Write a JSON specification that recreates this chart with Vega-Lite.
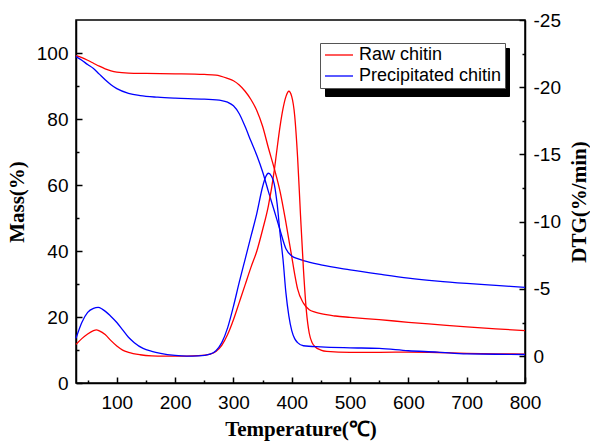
{
  "$schema": "https://vega.github.io/schema/vega-lite/v6.json",
  "autosize": {"type": "none"},
  "padding": {"left": 76, "top": 20, "right": 65, "bottom": 60},
  "width": 449,
  "height": 363,
  "background": "white",
  "config": {
    "view": {"stroke": "black", "strokeWidth": 1.5},
    "axis": {
      "grid": false,
      "domainColor": "black",
      "domainWidth": 1.5,
      "tickColor": "black",
      "tickWidth": 1.5,
      "labelFont": "Liberation Sans",
      "labelFontSize": 19,
      "labelColor": "black",
      "labelFlush": false,
      "titleFont": "Liberation Serif",
      "titleFontSize": 21,
      "titleFontWeight": "bold",
      "titleColor": "black"
    },
    "legend": {
      "labelFont": "Liberation Sans",
      "labelFontSize": 18,
      "labelColor": "black",
      "padding": 3,
      "rowPadding": 3,
      "symbolStrokeWidth": 1.3
    }
  },
  "datasets": {
    "mass": [
      {"T": 30, "Mass": 99.2, "Series": "Raw chitin"},
      {"T": 40, "Mass": 98.6, "Series": "Raw chitin"},
      {"T": 50, "Mass": 97.8, "Series": "Raw chitin"},
      {"T": 60, "Mass": 96.9, "Series": "Raw chitin"},
      {"T": 70, "Mass": 96.0, "Series": "Raw chitin"},
      {"T": 80, "Mass": 95.2, "Series": "Raw chitin"},
      {"T": 90, "Mass": 94.6, "Series": "Raw chitin"},
      {"T": 100, "Mass": 94.2, "Series": "Raw chitin"},
      {"T": 120, "Mass": 93.9, "Series": "Raw chitin"},
      {"T": 150, "Mass": 93.8, "Series": "Raw chitin"},
      {"T": 200, "Mass": 93.7, "Series": "Raw chitin"},
      {"T": 250, "Mass": 93.5, "Series": "Raw chitin"},
      {"T": 270, "Mass": 93.3, "Series": "Raw chitin"},
      {"T": 290, "Mass": 92.3, "Series": "Raw chitin"},
      {"T": 300, "Mass": 91.6, "Series": "Raw chitin"},
      {"T": 310, "Mass": 90.3, "Series": "Raw chitin"},
      {"T": 320, "Mass": 88.4, "Series": "Raw chitin"},
      {"T": 330, "Mass": 85.9, "Series": "Raw chitin"},
      {"T": 340, "Mass": 82.6, "Series": "Raw chitin"},
      {"T": 350, "Mass": 77.8, "Series": "Raw chitin"},
      {"T": 360, "Mass": 71.2, "Series": "Raw chitin"},
      {"T": 370, "Mass": 65.0, "Series": "Raw chitin"},
      {"T": 380, "Mass": 58.0, "Series": "Raw chitin"},
      {"T": 390, "Mass": 48.6, "Series": "Raw chitin"},
      {"T": 400, "Mass": 38.3, "Series": "Raw chitin"},
      {"T": 405, "Mass": 33.0, "Series": "Raw chitin"},
      {"T": 410, "Mass": 28.5, "Series": "Raw chitin"},
      {"T": 420, "Mass": 24.2, "Series": "Raw chitin"},
      {"T": 430, "Mass": 22.2, "Series": "Raw chitin"},
      {"T": 440, "Mass": 21.5, "Series": "Raw chitin"},
      {"T": 450, "Mass": 21.0, "Series": "Raw chitin"},
      {"T": 475, "Mass": 20.3, "Series": "Raw chitin"},
      {"T": 500, "Mass": 19.9, "Series": "Raw chitin"},
      {"T": 550, "Mass": 19.2, "Series": "Raw chitin"},
      {"T": 600, "Mass": 18.4, "Series": "Raw chitin"},
      {"T": 650, "Mass": 17.7, "Series": "Raw chitin"},
      {"T": 700, "Mass": 17.0, "Series": "Raw chitin"},
      {"T": 750, "Mass": 16.4, "Series": "Raw chitin"},
      {"T": 800, "Mass": 15.9, "Series": "Raw chitin"},
      {"T": 30, "Mass": 98.9, "Series": "Precipitated chitin"},
      {"T": 40, "Mass": 97.8, "Series": "Precipitated chitin"},
      {"T": 50, "Mass": 96.5, "Series": "Precipitated chitin"},
      {"T": 60, "Mass": 95.3, "Series": "Precipitated chitin"},
      {"T": 70, "Mass": 93.6, "Series": "Precipitated chitin"},
      {"T": 80, "Mass": 91.9, "Series": "Precipitated chitin"},
      {"T": 90, "Mass": 90.4, "Series": "Precipitated chitin"},
      {"T": 100, "Mass": 89.2, "Series": "Precipitated chitin"},
      {"T": 120, "Mass": 87.8, "Series": "Precipitated chitin"},
      {"T": 140, "Mass": 87.1, "Series": "Precipitated chitin"},
      {"T": 170, "Mass": 86.6, "Series": "Precipitated chitin"},
      {"T": 200, "Mass": 86.3, "Series": "Precipitated chitin"},
      {"T": 250, "Mass": 86.0, "Series": "Precipitated chitin"},
      {"T": 280, "Mass": 85.6, "Series": "Precipitated chitin"},
      {"T": 290, "Mass": 85.1, "Series": "Precipitated chitin"},
      {"T": 300, "Mass": 84.0, "Series": "Precipitated chitin"},
      {"T": 310, "Mass": 81.6, "Series": "Precipitated chitin"},
      {"T": 320, "Mass": 77.7, "Series": "Precipitated chitin"},
      {"T": 330, "Mass": 73.3, "Series": "Precipitated chitin"},
      {"T": 340, "Mass": 69.0, "Series": "Precipitated chitin"},
      {"T": 350, "Mass": 64.0, "Series": "Precipitated chitin"},
      {"T": 360, "Mass": 58.0, "Series": "Precipitated chitin"},
      {"T": 370, "Mass": 52.2, "Series": "Precipitated chitin"},
      {"T": 380, "Mass": 46.3, "Series": "Precipitated chitin"},
      {"T": 390, "Mass": 40.7, "Series": "Precipitated chitin"},
      {"T": 400, "Mass": 38.5, "Series": "Precipitated chitin"},
      {"T": 410, "Mass": 37.7, "Series": "Precipitated chitin"},
      {"T": 420, "Mass": 37.1, "Series": "Precipitated chitin"},
      {"T": 450, "Mass": 35.8, "Series": "Precipitated chitin"},
      {"T": 500, "Mass": 34.3, "Series": "Precipitated chitin"},
      {"T": 550, "Mass": 33.0, "Series": "Precipitated chitin"},
      {"T": 600, "Mass": 31.8, "Series": "Precipitated chitin"},
      {"T": 650, "Mass": 30.9, "Series": "Precipitated chitin"},
      {"T": 700, "Mass": 30.2, "Series": "Precipitated chitin"},
      {"T": 750, "Mass": 29.6, "Series": "Precipitated chitin"},
      {"T": 800, "Mass": 29.0, "Series": "Precipitated chitin"}
    ],
    "dtg": [
      {"T": 30, "DTG": -0.87, "Series": "Raw chitin"},
      {"T": 40, "DTG": -1.3, "Series": "Raw chitin"},
      {"T": 50, "DTG": -1.65, "Series": "Raw chitin"},
      {"T": 60, "DTG": -1.9, "Series": "Raw chitin"},
      {"T": 65, "DTG": -1.95, "Series": "Raw chitin"},
      {"T": 70, "DTG": -1.88, "Series": "Raw chitin"},
      {"T": 80, "DTG": -1.6, "Series": "Raw chitin"},
      {"T": 90, "DTG": -1.15, "Series": "Raw chitin"},
      {"T": 100, "DTG": -0.75, "Series": "Raw chitin"},
      {"T": 110, "DTG": -0.45, "Series": "Raw chitin"},
      {"T": 120, "DTG": -0.28, "Series": "Raw chitin"},
      {"T": 140, "DTG": -0.1, "Series": "Raw chitin"},
      {"T": 160, "DTG": -0.02, "Series": "Raw chitin"},
      {"T": 180, "DTG": 0, "Series": "Raw chitin"},
      {"T": 220, "DTG": 0, "Series": "Raw chitin"},
      {"T": 240, "DTG": -0.03, "Series": "Raw chitin"},
      {"T": 260, "DTG": -0.15, "Series": "Raw chitin"},
      {"T": 270, "DTG": -0.35, "Series": "Raw chitin"},
      {"T": 280, "DTG": -0.8, "Series": "Raw chitin"},
      {"T": 290, "DTG": -1.6, "Series": "Raw chitin"},
      {"T": 300, "DTG": -2.7, "Series": "Raw chitin"},
      {"T": 310, "DTG": -4.0, "Series": "Raw chitin"},
      {"T": 320, "DTG": -5.3, "Series": "Raw chitin"},
      {"T": 330, "DTG": -6.6, "Series": "Raw chitin"},
      {"T": 340, "DTG": -7.8, "Series": "Raw chitin"},
      {"T": 350, "DTG": -9.4, "Series": "Raw chitin"},
      {"T": 360, "DTG": -11.2, "Series": "Raw chitin"},
      {"T": 370, "DTG": -13.8, "Series": "Raw chitin"},
      {"T": 375, "DTG": -15.5, "Series": "Raw chitin"},
      {"T": 380, "DTG": -17.1, "Series": "Raw chitin"},
      {"T": 385, "DTG": -18.4, "Series": "Raw chitin"},
      {"T": 390, "DTG": -19.3, "Series": "Raw chitin"},
      {"T": 395, "DTG": -19.7, "Series": "Raw chitin"},
      {"T": 400, "DTG": -19.3, "Series": "Raw chitin"},
      {"T": 405, "DTG": -17.9, "Series": "Raw chitin"},
      {"T": 410, "DTG": -14.8, "Series": "Raw chitin"},
      {"T": 415, "DTG": -10.5, "Series": "Raw chitin"},
      {"T": 420, "DTG": -6.5, "Series": "Raw chitin"},
      {"T": 425, "DTG": -3.4, "Series": "Raw chitin"},
      {"T": 430, "DTG": -1.7, "Series": "Raw chitin"},
      {"T": 435, "DTG": -1.0, "Series": "Raw chitin"},
      {"T": 440, "DTG": -0.7, "Series": "Raw chitin"},
      {"T": 450, "DTG": -0.45, "Series": "Raw chitin"},
      {"T": 460, "DTG": -0.35, "Series": "Raw chitin"},
      {"T": 500, "DTG": -0.28, "Series": "Raw chitin"},
      {"T": 550, "DTG": -0.28, "Series": "Raw chitin"},
      {"T": 600, "DTG": -0.3, "Series": "Raw chitin"},
      {"T": 650, "DTG": -0.27, "Series": "Raw chitin"},
      {"T": 700, "DTG": -0.2, "Series": "Raw chitin"},
      {"T": 750, "DTG": -0.17, "Series": "Raw chitin"},
      {"T": 800, "DTG": -0.15, "Series": "Raw chitin"},
      {"T": 30, "DTG": -1.32, "Series": "Precipitated chitin"},
      {"T": 40, "DTG": -2.5, "Series": "Precipitated chitin"},
      {"T": 50, "DTG": -3.25, "Series": "Precipitated chitin"},
      {"T": 60, "DTG": -3.55, "Series": "Precipitated chitin"},
      {"T": 68, "DTG": -3.62, "Series": "Precipitated chitin"},
      {"T": 75, "DTG": -3.5, "Series": "Precipitated chitin"},
      {"T": 90, "DTG": -2.95, "Series": "Precipitated chitin"},
      {"T": 100, "DTG": -2.5, "Series": "Precipitated chitin"},
      {"T": 110, "DTG": -1.95, "Series": "Precipitated chitin"},
      {"T": 120, "DTG": -1.4, "Series": "Precipitated chitin"},
      {"T": 130, "DTG": -1.0, "Series": "Precipitated chitin"},
      {"T": 145, "DTG": -0.57, "Series": "Precipitated chitin"},
      {"T": 160, "DTG": -0.35, "Series": "Precipitated chitin"},
      {"T": 175, "DTG": -0.2, "Series": "Precipitated chitin"},
      {"T": 200, "DTG": -0.05, "Series": "Precipitated chitin"},
      {"T": 220, "DTG": 0, "Series": "Precipitated chitin"},
      {"T": 240, "DTG": -0.02, "Series": "Precipitated chitin"},
      {"T": 260, "DTG": -0.15, "Series": "Precipitated chitin"},
      {"T": 270, "DTG": -0.4, "Series": "Precipitated chitin"},
      {"T": 280, "DTG": -1.0, "Series": "Precipitated chitin"},
      {"T": 290, "DTG": -2.1, "Series": "Precipitated chitin"},
      {"T": 300, "DTG": -3.7, "Series": "Precipitated chitin"},
      {"T": 310, "DTG": -5.5, "Series": "Precipitated chitin"},
      {"T": 320, "DTG": -7.2, "Series": "Precipitated chitin"},
      {"T": 330, "DTG": -8.9, "Series": "Precipitated chitin"},
      {"T": 340, "DTG": -10.6, "Series": "Precipitated chitin"},
      {"T": 350, "DTG": -12.6, "Series": "Precipitated chitin"},
      {"T": 355, "DTG": -13.3, "Series": "Precipitated chitin"},
      {"T": 360, "DTG": -13.6, "Series": "Precipitated chitin"},
      {"T": 365, "DTG": -13.4, "Series": "Precipitated chitin"},
      {"T": 370, "DTG": -12.8, "Series": "Precipitated chitin"},
      {"T": 375, "DTG": -11.3, "Series": "Precipitated chitin"},
      {"T": 380, "DTG": -9.1, "Series": "Precipitated chitin"},
      {"T": 385, "DTG": -7.2, "Series": "Precipitated chitin"},
      {"T": 390, "DTG": -4.7, "Series": "Precipitated chitin"},
      {"T": 395, "DTG": -3.0, "Series": "Precipitated chitin"},
      {"T": 400, "DTG": -1.9, "Series": "Precipitated chitin"},
      {"T": 405, "DTG": -1.3, "Series": "Precipitated chitin"},
      {"T": 410, "DTG": -1.0, "Series": "Precipitated chitin"},
      {"T": 420, "DTG": -0.77, "Series": "Precipitated chitin"},
      {"T": 450, "DTG": -0.69, "Series": "Precipitated chitin"},
      {"T": 500, "DTG": -0.62, "Series": "Precipitated chitin"},
      {"T": 550, "DTG": -0.57, "Series": "Precipitated chitin"},
      {"T": 600, "DTG": -0.4, "Series": "Precipitated chitin"},
      {"T": 650, "DTG": -0.3, "Series": "Precipitated chitin"},
      {"T": 700, "DTG": -0.16, "Series": "Precipitated chitin"},
      {"T": 750, "DTG": -0.14, "Series": "Precipitated chitin"},
      {"T": 800, "DTG": -0.12, "Series": "Precipitated chitin"}
    ]
  },
  "layer": [
    {
      "data": {"name": "mass"},
      "layer": [
        {
          "mark": {"type": "line", "interpolate": "monotone", "strokeWidth": 1.3},
          "encoding": {
            "x": {
              "field": "T", "type": "quantitative",
              "scale": {"domain": [30, 800], "nice": false, "zero": false},
              "axis": {"orient": "bottom", "title": "Temperature(℃)", "values": [100, 200, 300, 400, 500, 600, 700, 800], "tickSize": -6, "labelPadding": 16, "titlePadding": 6}
            },
            "y": {
              "field": "Mass", "type": "quantitative",
              "scale": {"domain": [0, 110], "nice": false},
              "axis": {"orient": "left", "title": "Mass(%)", "values": [0, 20, 40, 60, 80, 100], "tickSize": -6, "labelPadding": 14, "titlePadding": 9}
            },
            "color": {
              "field": "Series", "type": "nominal",
              "scale": {"domain": ["Raw chitin", "Precipitated chitin"], "range": ["#ff0000", "#0000ff"]},
              "legend": {"title": null, "orient": "none", "legendX": 244, "legendY": 23, "fillColor": "white", "strokeColor": "#555555", "symbolType": "M-1,0H3", "symbolSize": 196, "labelOffset": 18, "zindex": 2}
            },
            "opacity": {
              "field": "Series", "type": "ordinal",
              "scale": {"range": [1, 1]},
              "legend": {"title": null, "orient": "none", "legendX": 249, "legendY": 28, "fillColor": "black", "strokeColor": "black", "symbolType": "square", "symbolSize": 196, "symbolStrokeColor": "black", "symbolFillColor": "black", "labelExpr": "''", "labelOffset": 160, "zindex": 1}
            }
          }
        },
        {
          "mark": {"type": "line", "strokeOpacity": 0},
          "encoding": {
            "x": {
              "field": "T", "type": "quantitative",
              "axis": {"orient": "bottom", "title": null, "labels": false, "domain": false, "values": [50, 150, 250, 350, 450, 550, 650, 750], "tickSize": -3}
            },
            "y": {
              "field": "Mass", "type": "quantitative",
              "axis": {"orient": "left", "title": null, "labels": false, "domain": false, "values": [10, 30, 50, 70, 90], "tickSize": -3}
            },
            "detail": {"field": "Series"}
          }
        }
      ],
      "resolve": {"axis": {"x": "independent", "y": "independent"}}
    },
    {
      "data": {"name": "dtg"},
      "layer": [
        {
          "mark": {"type": "line", "interpolate": "monotone", "strokeWidth": 1.3},
          "encoding": {
            "x": {"field": "T", "type": "quantitative", "axis": null},
            "y": {
              "field": "DTG", "type": "quantitative",
              "scale": {"domain": [-25, 2], "nice": false, "zero": false, "reverse": true},
              "axis": {"orient": "right", "title": "DTG(%/min)", "titleAngle": 270, "titleBaseline": "top", "values": [-25, -20, -15, -10, -5, 0], "labelExpr": "replace(datum.label, '−', '-')", "tickSize": -6, "labelPadding": 14, "titlePadding": 8}
            },
            "color": {"field": "Series", "type": "nominal"}
          }
        },
        {
          "mark": {"type": "line", "strokeOpacity": 0},
          "encoding": {
            "x": {"field": "T", "type": "quantitative", "axis": null},
            "y": {
              "field": "DTG", "type": "quantitative",
              "axis": {"orient": "right", "title": null, "labels": false, "domain": false, "values": [-22.5, -17.5, -12.5, -7.5, -2.5], "tickSize": -3}
            },
            "detail": {"field": "Series"}
          }
        }
      ],
      "resolve": {"axis": {"y": "independent"}}
    }
  ],
  "resolve": {"scale": {"y": "independent"}, "axis": {"x": "independent", "y": "independent"}}
}
